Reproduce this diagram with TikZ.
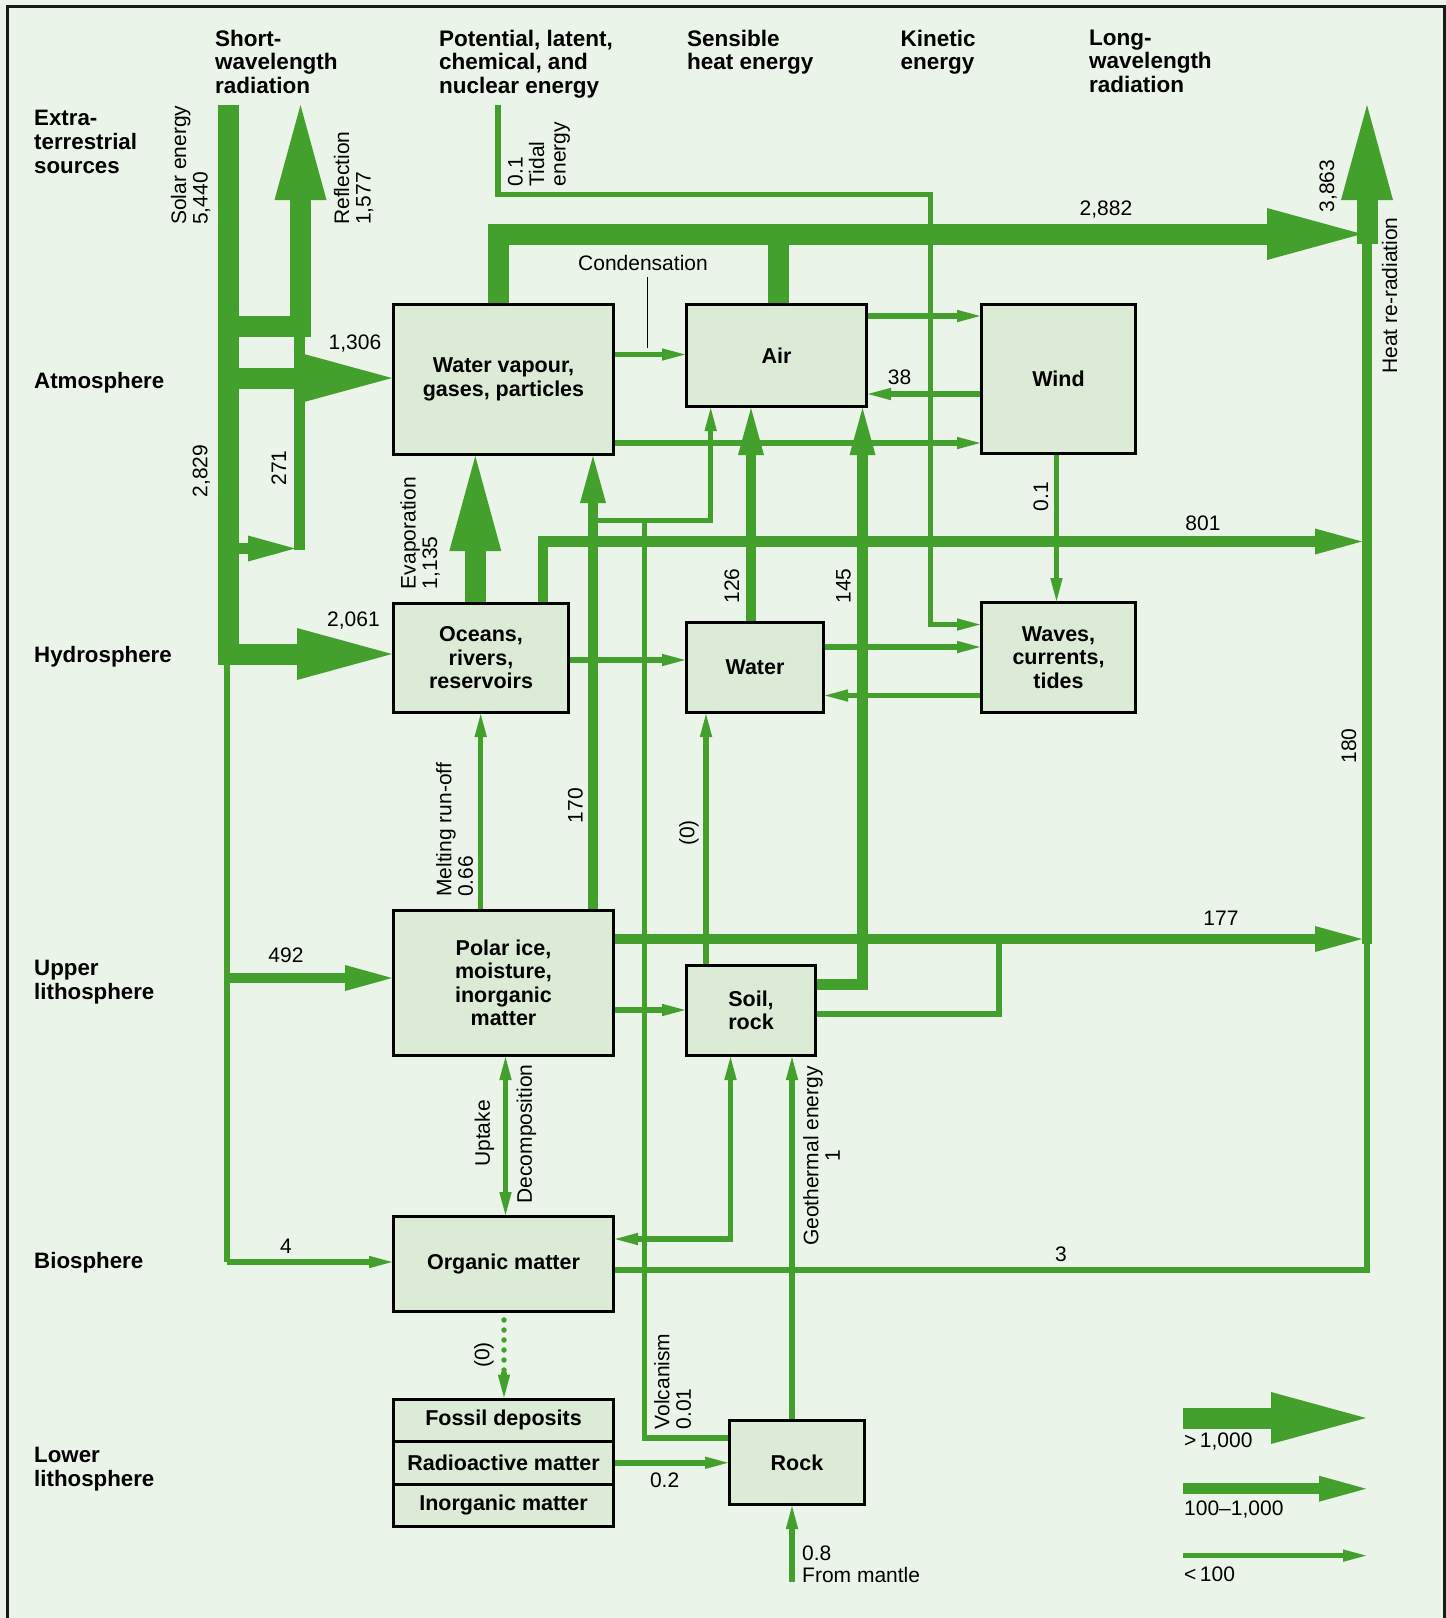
\documentclass[tikz,border=0pt]{standalone}
\usepackage{fontspec}
\setmainfont{Liberation Sans}
\usetikzlibrary{arrows.meta}
\definecolor{bgc}{RGB}{235,244,233}
\definecolor{boxc}{RGB}{219,235,214}
\definecolor{flow}{RGB}{67,160,44}
\tikzset{
  tbig/.tip={Triangle[length=95pt, width=52pt, line width=0pt]},
  tmed/.tip={Triangle[length=47pt, width=26pt, line width=0pt]},
  tsml/.tip={Triangle[length=23pt, width=12.5pt, line width=0pt]},
  t1306/.tip={Triangle[length=88pt, width=48pt, line width=0pt]},
}
\begin{document}
\begin{tikzpicture}[x=1pt,y=-1pt,
  box/.style={draw=black, line width=3pt, fill=boxc, inner sep=0pt, align=center, font=\bfseries\fontsize{21.5}{23.5}\selectfont},
  hdr/.style={inner sep=0pt, align=left, anchor=north west, font=\bfseries\fontsize{22.5}{23.8}\selectfont},
  rowl/.style={inner sep=0pt, align=left, font=\bfseries\fontsize{22.3}{24}\selectfont},
  num/.style={inner sep=0pt, font=\fontsize{21}{21.5}\selectfont},
  rot/.style={inner sep=0pt, rotate=90, align=left, font=\fontsize{21}{21.5}\selectfont},
  rotc/.style={inner sep=0pt, rotate=90, align=center, font=\fontsize{21}{21.5}\selectfont},
  fbig/.style={draw=flow, line width=21pt},
  fmed/.style={draw=flow, line width=10.5pt},
  fsml/.style={draw=flow, line width=5.5pt},
  dotl/.style={draw=flow, line width=5.5pt, line cap=round, dash pattern=on 0pt off 10pt},
]
\useasboundingbox (0,0) rectangle (1446,1618);
\fill[bgc] (0,0) rectangle (1446,1618);
\draw[line width=3pt, black!90] (7.5,1618) -- (7.5,6.5) -- (1444.5,6.5) -- (1444.5,1618);

% ---------- box geometry (names for connectors) ----------
\begin{scope}[opacity=0]
\node[box, minimum width=220pt, minimum height=150pt] (wv) at (503.5,379.5) {};
\node[box, minimum width=180pt, minimum height=102pt] (air) at (776.5,355.5) {};
\node[box, minimum width=154pt, minimum height=149pt] (wind) at (1058.5,379) {};
\node[box, minimum width=175pt, minimum height=109pt] (oceans) at (481,658) {};
\node[box, minimum width=137pt, minimum height=90pt] (water) at (755,667.5) {};
\node[box, minimum width=154pt, minimum height=110pt] (waves) at (1058.5,657.5) {};
\node[box, minimum width=220pt, minimum height=145pt] (polar) at (503.5,983) {};
\node[box, minimum width=129pt, minimum height=90pt] (soil) at (751,1010.5) {};
\node[box, minimum width=220pt, minimum height=95pt] (organic) at (503.5,1264) {};
\node[box, minimum width=220pt, minimum height=42.5pt] (fossil) at (503.5,1420.25) {};
\node[box, minimum width=220pt, minimum height=42.5pt] (radio) at (503.5,1462.75) {};
\node[box, minimum width=220pt, minimum height=42.5pt] (inorg) at (503.5,1505.25) {};
\node[box, minimum width=135pt, minimum height=84pt] (rock) at (797,1462.5) {};
\end{scope}

% ---------- free ends ----------
\coordinate (solartop) at (228.5,105);
\coordinate (refltip) at (300.5,105);
\coordinate (heattip) at (1367,105);
\coordinate (tidaltop) at (498,105);
\coordinate (mantle) at (792,1582);
\coordinate (j271) at (295,548.5);
\coordinate (jheat2882) at (1362,234);
\coordinate (jheat801) at (1362,541.5);
\coordinate (jheat177) at (1362,939);
\coordinate (j170) at (593,520.5);

% ---------- flows ----------
\draw[fbig,-tbig] (solartop) -- (228.5,654) -- (oceans.west |- 0,654);
\draw[fbig,-tbig] (228.5,326) -- (300.5,326) -- (refltip);
\draw[fbig,-t1306] (228.5,378) -- (wv.west |- 0,378);
\draw[fmed] (299.5,331) -- (299.5,549.5);
\draw[fmed,-tmed] (228.5,548.5) -- (j271);
\draw[fsml] (227,654) -- (227,1262);
\draw[fsml,-tsml] (227,1262) -- (organic.west |- 0,1262);
\draw[fmed,-tmed] (227,978) -- (polar.west |- 0,978);
\draw[fbig,-tbig] (498.5,0 |- wv.north) -- (498.5,234) -- (jheat2882);
\draw[fbig] (778,0 |- air.north) -- (778,234);
\draw[fbig,-tbig] (1367,244) -- (heattip);
\draw[fmed] (1367,944) -- (1367,236);
\draw[fsml] (organic.east |- 0,1270) -- (1367,1270) -- (1367,939);
\draw[fmed,-tmed] (543,0 |- oceans.north) -- (543,541.5) -- (jheat801);
\draw[fmed,-tmed] (polar.east |- 0,939) -- (jheat177);
\draw[fsml] (soil.east |- 0,1014) -- (999,1014) -- (999,939);
\draw[fmed,-tmed] (soil.east |- 0,984.5) -- (862.5,984.5) -- (862.5,0 |- air.south);
\draw[fmed,-tmed] (751,0 |- water.north) -- (751,0 |- air.south);
\draw[fmed,-tmed] (593,0 |- polar.north) -- (593,0 |- wv.south);
\draw[fbig,-tbig] (475.3,0 |- oceans.north) -- (475.3,0 |- wv.south);
\draw[fsml,-tsml] (480.7,0 |- polar.north) -- (480.7,0 |- oceans.south);
\draw[fsml,-tsml] (wv.east |- 0,354.5) -- (air.west |- 0,354.5);
\draw[fsml,-tsml] (wv.east |- 0,443) -- (wind.west |- 0,443);
\draw[fsml,-tsml] (air.east |- 0,316) -- (wind.west |- 0,316);
\draw[fsml,-tsml] (wind.west |- 0,394) -- (air.east |- 0,394);
\draw[fsml,-tsml] (tidaltop) -- (498,194.6) -- (930.5,194.6) -- (930.5,624.5) -- (waves.west |- 0,624.5);
\draw[fsml,-tsml] (1056.5,0 |- wind.south) -- (1056.5,0 |- waves.north);
\draw[fsml,-tsml] (oceans.east |- 0,660) -- (water.west |- 0,660);
\draw[fsml,-tsml] (water.east |- 0,647) -- (waves.west |- 0,647);
\draw[fsml,-tsml] (waves.west |- 0,695.5) -- (water.east |- 0,695.5);
\draw[fsml,-tsml] (j170) -- (710.7,520.5) -- (710.7,0 |- air.south);
\draw[fsml] (rock.west |- 0,1438) -- (644.5,1438) -- (644.5,520.5);
\draw[fsml,-tsml] (706,0 |- soil.north) -- (706,0 |- water.south);
\draw[fsml,-tsml] (polar.east |- 0,1010) -- (soil.west |- 0,1010);
\draw[fsml,tsml-tsml] (505.5,0 |- polar.south) -- (505.5,0 |- organic.north);
\draw[fsml,tsml-tsml] (organic.east |- 0,1239) -- (730.5,1239) -- (730.5,0 |- soil.south);
\draw[fsml,-tsml] (792,0 |- rock.north) -- (792,0 |- soil.south);
\draw[fsml,-tsml] (mantle) -- (792,0 |- rock.south);
\draw[fsml,-tsml] (radio.east) -- (rock.west |- radio.east);
\draw[dotl] (504,0 |- organic.south) ++(0,7) -- (504,1376);
\draw[fsml,-tsml] (504,1372) -- (504,0 |- fossil.north);

% legend
\coordinate (lga1) at (1183,1418);   \coordinate (lgb1) at (1366,1418);
\coordinate (lga2) at (1183,1488.7); \coordinate (lgb2) at (1366,1488.7);
\coordinate (lga3) at (1183,1555.6); \coordinate (lgb3) at (1366,1555.6);
\draw[fbig,-tbig] (lga1) -- (lgb1);
\draw[fmed,-tmed] (lga2) -- (lgb2);
\draw[fsml,-tsml] (lga3) -- (lgb3);

% ---------- boxes ----------
\node[box, minimum width=220pt, minimum height=150pt] (wvb) at (wv) {Water vapour,\\gases, particles};
\node[box, minimum width=180pt, minimum height=102pt] (airb) at (air) {Air};
\node[box, minimum width=154pt, minimum height=149pt] (windb) at (wind) {Wind};
\node[box, minimum width=175pt, minimum height=109pt] (oceansb) at (oceans) {Oceans,\\rivers,\\reservoirs};
\node[box, minimum width=137pt, minimum height=90pt] (waterb) at (water) {Water};
\node[box, minimum width=154pt, minimum height=110pt] (wavesb) at (waves) {Waves,\\currents,\\tides};
\node[box, minimum width=220pt, minimum height=145pt] (polarb) at (polar) {Polar ice,\\moisture,\\inorganic\\matter};
\node[box, minimum width=129pt, minimum height=90pt] (soilb) at (soil) {Soil,\\rock};
\node[box, minimum width=220pt, minimum height=95pt] (organicb) at (organic) {Organic matter};
\node[box, minimum width=220pt, minimum height=42.5pt] (fossilb) at (fossil) {Fossil deposits};
\node[box, minimum width=220pt, minimum height=42.5pt] (radiob) at (radio) {Radioactive matter};
\node[box, minimum width=220pt, minimum height=42.5pt] (inorgb) at (inorg) {Inorganic matter};
\node[box, minimum width=135pt, minimum height=84pt] (rockb) at (rock) {Rock};

% ---------- condensation pointer ----------
\node[num] (cond) at (643,262.5) {Condensation};
\draw[line width=1.6pt, black] (647.4,277) -- (647.4,348);

% ---------- headers ----------
\node[hdr] (h1) at (215,29.5) {Short-\\wavelength\\radiation};
\node[hdr] (h2) at (439,29.5) {Potential, latent,\\chemical, and\\nuclear energy};
\node[hdr] (h3) at (687,29.5) {Sensible\\heat energy};
\node[hdr] (h4) at (900.5,29.5) {Kinetic\\energy};
\node[hdr] (h5) at (1089,29.5) {Long-\\wavelength\\radiation};

% ---------- row labels ----------
\node[rowl, anchor=north west] (r1) at (34,109.5) {Extra-\\terrestrial\\sources};
\node[rowl, anchor=west] (r2) at (34,383) {Atmosphere};
\node[rowl, anchor=west] (r3) at (34,657) {Hydrosphere};
\node[rowl, anchor=north west] (r4) at (34,959.5) {Upper\\lithosphere};
\node[rowl, anchor=west] (r5) at (34,1263) {Biosphere};
\node[rowl, anchor=north west] (r6) at (34,1446.5) {Lower\\lithosphere};

% ---------- number labels ----------
\node[num] (n1306) at (355,344) {1,306};
\node[num] (n2061) at (353.5,621) {2,061};
\node[num] (n492) at (286,955.4) {492};
\node[num] (n4) at (286,1246) {4};
\node[num] (n2882) at (1106,210) {2,882};
\node[num] (n801) at (1203,523) {801};
\node[num] (n177) at (1221,918.6) {177};
\node[num] (n3) at (1061,1254) {3};
\node[num] (n38) at (899.6,376.8) {38};
\node[num] (n02) at (664.6,1480.5) {0.2};
\node[num, anchor=north west, align=left] (nmantle) at (802,1546) {0.8\\From mantle};
\node[num, anchor=west] (lgt1) at (1184,1441) {>\,1,000};
\node[num, anchor=west] (lgt2) at (1184,1509.6) {100–1,000};
\node[num, anchor=west] (lgt3) at (1184,1574) {<\,100};

% ---------- rotated labels ----------
\node[rot, anchor=west] (lsolar) at (190.5,225) {Solar energy\\5,440};
\node[rot, anchor=west] (lrefl) at (353.5,225) {Reflection\\1,577};
\node[rot, anchor=west] (ltidal) at (539,186.4) {0.1\\Tidal\\energy};
\node[rot, anchor=west] (levap) at (420,589.3) {Evaporation\\1,135};
\node[rot, anchor=west] (lmelt) at (454.5,897) {Melting run-off\\0.66};
\node[rot, anchor=west] (lvolc) at (672.5,1429.4) {Volcanism\\0.01};
\node[rotc] (lgeo) at (821.5,1156) {Geothermal energy\\1};
\node[rot] (l2829) at (201.5,471) {2,829};
\node[rot] (l271) at (278.7,468) {271};
\node[rot] (l3863) at (1328,186) {3,863};
\node[rot] (lheat) at (1389.6,295.5) {Heat re-radiation};
\node[rot] (lwind01) at (1041,496.5) {0.1};
\node[rot] (l126) at (732,586) {126};
\node[rot] (l145) at (843.6,586) {145};
\node[rot] (l170) at (575.5,805.6) {170};
\node[rot] (l180) at (1349,746) {180};
\node[rot] (lzero1) at (689,833) {(0)};
\node[rot] (luptake) at (484.5,1133.5) {Uptake};
\node[rot] (ldecomp) at (526.5,1134) {Decomposition};
\node[rot] (lzero2) at (484,1355) {(0)};
\end{tikzpicture}
\end{document}
